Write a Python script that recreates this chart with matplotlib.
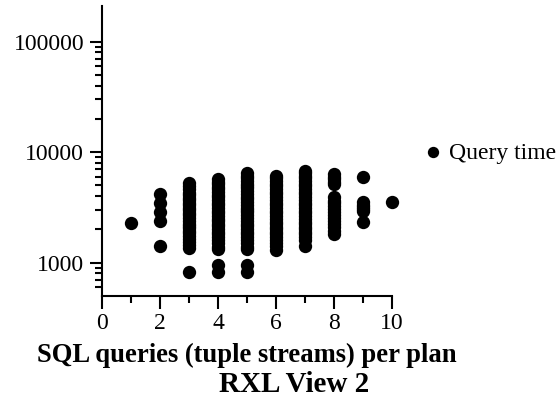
import matplotlib
matplotlib.use("Agg")
import matplotlib.pyplot as plt
from matplotlib.ticker import FixedLocator, NullFormatter

plt.rcParams['font.family'] = ['Liberation Serif', 'DejaVu Serif']

# query time (ms) per number of SQL queries in the plan
plan1 = [2300]
plan2 = [4150, 3500, 2870, 2370, 1430]
plan3 = [5300, 4900, 4600, 4300, 4100, 3850, 3700, 3450, 3300, 3100, 3000, 2800, 2700,
         2550, 2400, 2250, 2150, 2050, 1950, 1850, 1750, 1650, 1550, 1450, 1360, 820]
plan4 = [5700, 5400, 5100, 4850, 4600, 4350, 4100, 3900, 3700, 3500, 3300, 3100, 2950, 2800,
         2650, 2500, 2400, 2250, 2150, 2000, 1900, 1800, 1700, 1600, 1500, 1400, 1320, 960, 820]
plan5 = [6500, 6150, 5800, 5500, 5200, 4950, 4700, 4450, 4200, 3950, 3750, 3550, 3350, 3150,
         3000, 2850, 2700, 2550, 2400, 2250, 2150, 2000, 1900, 1800, 1700, 1600, 1500, 1400,
         1320, 960, 820]
plan6 = [6100, 5800, 5500, 5200, 4900, 4650, 4400, 4150, 3950, 3700, 3500, 3300, 3150, 2950,
         2800, 2650, 2500, 2350, 2250, 2100, 2000, 1900, 1800, 1700, 1600, 1500, 1420, 1300]
plan7 = [6800, 6450, 6100, 5800, 5500, 5200, 4900, 4650, 4400, 4150, 3950, 3700, 3500, 3300,
         3150, 2950, 2800, 2650, 2500, 2350, 2250, 2100, 2000, 1900, 1800, 1700, 1600, 1430]
plan8 = [6300, 6000, 5700, 5400, 5100, 3900, 3650, 3450, 3250, 3050, 2850, 2700, 2550, 2400,
         2250, 2100, 1950, 1800]
plan9 = [5900, 3560, 3350, 3200, 3050, 2930, 2320]
plan10 = [3560]
times = [plan1, plan2, plan3, plan4, plan5, plan6, plan7, plan8, plan9, plan10]

xs = []
ys = []
for n, vals in enumerate(times, start=1):
    xs += [n] * len(vals)
    ys += vals

fig = plt.figure(figsize=(5.58, 4.13), dpi=100)
ax = fig.add_axes([0.183, 0.2833, 0.5195, 0.7022])

ax.scatter(xs, ys, s=92, color="black", linewidths=0, label="Query time", clip_on=False)

ax.set_yscale("log")
ax.set_xlim(0, 10)
ax.set_ylim(500, 210000)
ax.set_yticks([1000, 10000, 100000])
ax.set_yticklabels(["1000", "10000", "100000"])
minors = [600, 700, 800, 900] + [m * 1000 for m in range(2, 10)] + [m * 10000 for m in range(2, 10)]
ax.yaxis.set_minor_locator(FixedLocator(minors))
ax.yaxis.set_minor_formatter(NullFormatter())
ax.set_xticks([0, 2, 4, 6, 8, 10])
ax.set_xticks([1, 3, 5, 7, 9], minor=True)

for side in ["top", "right"]:
    ax.spines[side].set_visible(False)
for side in ["left", "bottom"]:
    ax.spines[side].set_linewidth(1.5)

ax.tick_params(axis="y", which="major", direction="out", length=9, width=1.5, labelsize=17, pad=4)
ax.tick_params(axis="y", which="minor", direction="out", length=5, width=1.5)
ax.tick_params(axis="x", which="major", direction="out", length=9, width=1.5, labelsize=17, pad=3)
ax.tick_params(axis="x", which="minor", direction="out", length=5, width=1.5)

fig.text(0.442, 0.14, "SQL queries (tuple streams) per plan", ha="center", va="center",
         fontsize=19.2, fontweight="bold")
fig.text(0.527, 0.068, "RXL View 2", ha="center", va="center", fontsize=21, fontweight="bold")

ax.legend(loc="center left", bbox_to_anchor=(0.729, 0.63), bbox_transform=fig.transFigure,
          frameon=False, fontsize=17, handletextpad=0.1, markerscale=0.85,
          borderpad=0, handlelength=1.2)

fig.savefig("out.png", dpi=100)
